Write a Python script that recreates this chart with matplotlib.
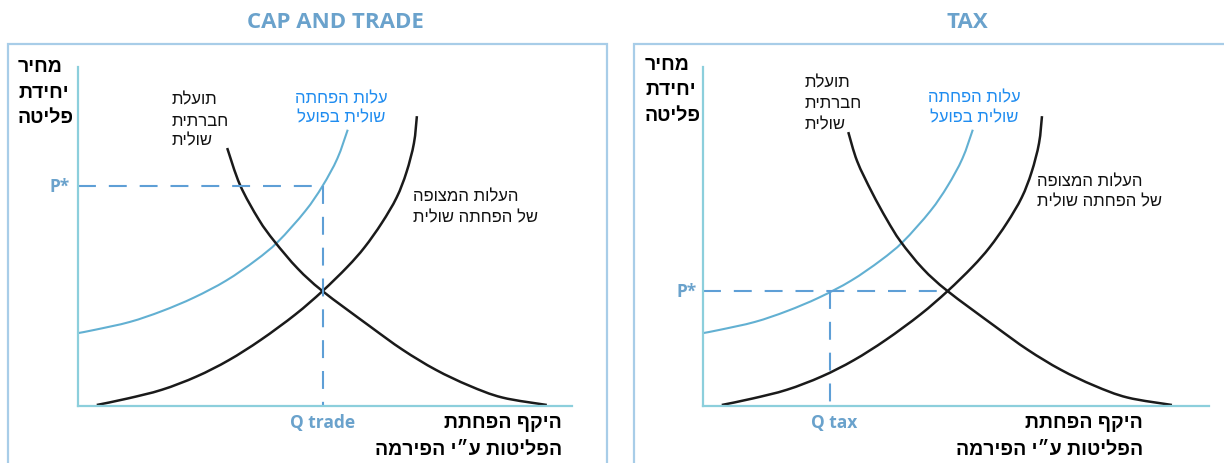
import matplotlib.pyplot as plt
from matplotlib.patches import Rectangle, PathPatch
from matplotlib.path import Path

W, H = 1224, 464

# ── Curves (quantity of abatement, price per unit of emission) ──────────────
# actual marginal abatement cost (blue)
mac_q = [0.0, 0.35, 1.05, 1.7, 2.35, 3.0, 3.6, 4.05, 4.6, 4.95, 5.25, 5.46]
mac_p = [2.15, 2.25, 2.48, 2.8, 3.2, 3.7, 4.3, 4.85, 5.75, 6.49, 7.3, 8.15]

# expected marginal abatement cost (black, rising)
exp_q = [0.38, 1.0, 1.7, 2.4, 3.05, 3.7, 4.4, 4.95, 5.45, 5.8, 6.15, 6.45,
         6.65, 6.8, 6.86]
exp_p = [0.03, 0.22, 0.48, 0.87, 1.35, 1.95, 2.7, 3.39, 4.1, 4.68, 5.4, 6.15,
         6.9, 7.75, 8.55]

# marginal social benefit (black, falling)
msb_q_cap = [3.02, 3.28, 3.66, 3.98, 4.45, 4.95, 5.9, 6.57, 7.24, 7.92, 8.59, 9.49]
msb_p_cap = [7.61, 6.52, 5.5, 4.85, 4.05, 3.39, 2.36, 1.66, 1.07, 0.6, 0.25, 0.03]
msb_q_tax = [2.94, 3.12, 3.42, 3.72, 4.0, 4.45] + msb_q_cap[5:]
msb_p_tax = [8.08, 7.22, 6.3, 5.5, 4.85, 4.05] + msb_p_cap[5:]

# equilibrium points
q_trade, p_trade = 4.95, 6.49
q_cross, p_cross = 4.95, 3.39
q_tax, p_tax = 2.57, 3.39

titles = ["CAP AND TRADE", "TAX"]
q_labels = ["Q trade", "Q tax"]

C_AXIS = "#8ccfdc"
C_BOX = "#a8cde8"
C_MAC = "#62b0d2"
C_DASH = "#5e9fd6"
C_LBL = "#6aa2cc"
C_TXT_BLUE = "#1f8cf0"
C_CURVE = "#1a1a1a"

HEB = ["Liberation Sans", "DejaVu Sans"]
LAT = ["Open Sans", "DejaVu Sans"]


def heb(s):
    # matplotlib has no bidi support: reverse Hebrew lines by hand
    return s[::-1]


def fx(x):
    return x / W


def fy(y):
    return 1 - y / H


def smooth_curve(ax, xs, ys, **kw):
    # Catmull-Rom through the points, drawn as cubic Bezier segments
    pts = list(zip(xs, ys))
    verts = [pts[0]]
    codes = [Path.MOVETO]
    for i in range(len(pts) - 1):
        p0 = pts[max(i - 1, 0)]
        p1 = pts[i]
        p2 = pts[i + 1]
        p3 = pts[min(i + 2, len(pts) - 1)]
        c1 = (p1[0] + (p2[0] - p0[0]) / 6, p1[1] + (p2[1] - p0[1]) / 6)
        c2 = (p2[0] - (p3[0] - p1[0]) / 6, p2[1] - (p3[1] - p1[1]) / 6)
        verts += [c1, c2, p2]
        codes += [Path.CURVE4] * 3
    ax.add_patch(PathPatch(Path(verts, codes), fill=False, capstyle="butt", **kw))


fig = plt.figure(figsize=(W / 100, H / 100), dpi=100)
fig.patch.set_facecolor("white")

# ── Panel frames and titles ──────────────────────────────────────────────
fig.add_artist(Rectangle((fx(8), fy(470)), fx(599), 425 / H, transform=fig.transFigure,
                         fill=False, ec=C_BOX, lw=1.6))
fig.add_artist(Rectangle((fx(634), fy(470)), fx(620), 425 / H, transform=fig.transFigure,
                         fill=False, ec=C_BOX, lw=1.6))
fig.text(fx(335), fy(22), titles[0], ha="center", va="center", fontsize=16,
         fontweight="bold", color=C_LBL, family=LAT)
fig.text(fx(967), fy(22), titles[1], ha="center", va="center", fontsize=16,
         fontweight="bold", color=C_LBL, family=LAT)

# ── Axes ─────────────────────────────────────────────────────────────────
panels = [
    dict(left=78, right=572, xmax=10.0, msb=(msb_q_cap, msb_p_cap)),
    dict(left=703, right=1209, xmax=10.24, msb=(msb_q_tax, msb_p_tax)),
]
axes = []
for k, pnl in enumerate(panels):
    ax = fig.add_axes([fx(pnl["left"]), fy(407), (pnl["right"] - pnl["left"]) / W, 339 / H])
    ax.set_xlim(0, pnl["xmax"])
    ax.set_ylim(0, 10)
    ax.set_xticks([])
    ax.set_yticks([])
    ax.patch.set_alpha(0)
    for s in ["top", "right"]:
        ax.spines[s].set_visible(False)
    for s in ["left", "bottom"]:
        ax.spines[s].set_color(C_AXIS)
        ax.spines[s].set_linewidth(1.6)

    smooth_curve(ax, mac_q, mac_p, ec=C_MAC, lw=1.5)
    smooth_curve(ax, exp_q, exp_p, ec=C_CURVE, lw=1.8)
    smooth_curve(ax, *pnl["msb"], ec=C_CURVE, lw=1.8)
    axes.append(ax)

dash = (0, (8.6, 6.2))
ax1, ax2 = axes
# cap and trade: price set by the actual cost at the capped quantity
ax1.plot([0, q_trade], [p_trade, p_trade], color=C_DASH, lw=1.5, ls=dash)
ax1.plot([q_trade, q_trade], [p_trade, 0], color=C_DASH, lw=1.5, ls=dash)
ax1.text(-0.16, p_trade, "P*", ha="right", va="center", fontsize=12.5,
         fontweight="bold", color=C_LBL, family=LAT)
ax1.text(q_trade, -0.47, q_labels[0], ha="center", va="center", fontsize=12.5,
         fontweight="bold", color=C_LBL, family=LAT, clip_on=False)
# tax: price fixed at the expected optimum
ax2.plot([0, q_cross], [p_tax, p_tax], color=C_DASH, lw=1.5, ls=dash)
ax2.plot([q_tax, q_tax], [p_tax, 0], color=C_DASH, lw=1.5, ls=dash)
ax2.text(-0.12, p_tax, "P*", ha="right", va="center", fontsize=12.5,
         fontweight="bold", color=C_LBL, family=LAT)
ax2.text(q_tax + 0.08, -0.47, q_labels[1], ha="center", va="center", fontsize=12.5,
         fontweight="bold", color=C_LBL, family=LAT, clip_on=False)

# ── Hebrew labels ────────────────────────────────────────────────────────
ylab = ["מחיר", "יחידת", "פליטה"]
xlab = ["היקף הפחתת", "הפליטות ע״י הפירמה"]
msb_lab = ["תועלת", "חברתית", "שולית"]
mac_lab = ["עלות הפחתה", "שולית בפועל"]
exp_lab = ["העלות המצופה", "של הפחתה שולית"]

layout = [
    dict(ylab=(18, [68, 93, 118]), xlab=(562, [424, 450]),
         msb=(172, [100, 121, 141]), mac=(341, [99, 118]), exp=(413, [197, 218])),
    dict(ylab=(645, [66, 91, 116]), xlab=(1143, [424, 450]),
         msb=(805, [83, 104, 125]), mac=(974, [98, 118]), exp=(1037, [182, 202])),
]

for lay in layout:
    x, ys = lay["ylab"]
    for s, y in zip(ylab, ys):
        fig.text(fx(x), fy(y), heb(s), ha="left", va="center", fontsize=14,
                 fontweight="heavy", color="black", family=HEB)
    x, ys = lay["xlab"]
    for s, y in zip(xlab, ys):
        fig.text(fx(x), fy(y), heb(s), ha="right", va="center", fontsize=14,
                 fontweight="heavy", color="black", family=HEB)
    x, ys = lay["msb"]
    for s, y in zip(msb_lab, ys):
        fig.text(fx(x), fy(y), heb(s), ha="left", va="center", fontsize=12,
                 color="#111111", family=HEB)
    x, ys = lay["mac"]
    for s, y in zip(mac_lab, ys):
        fig.text(fx(x), fy(y), heb(s), ha="center", va="center", fontsize=12,
                 color=C_TXT_BLUE, family=HEB)
    x, ys = lay["exp"]
    for s, y in zip(exp_lab, ys):
        fig.text(fx(x), fy(y), heb(s), ha="left", va="center", fontsize=12,
                 color="#111111", family=HEB)

fig.savefig("out.png", dpi=100, facecolor="white")
